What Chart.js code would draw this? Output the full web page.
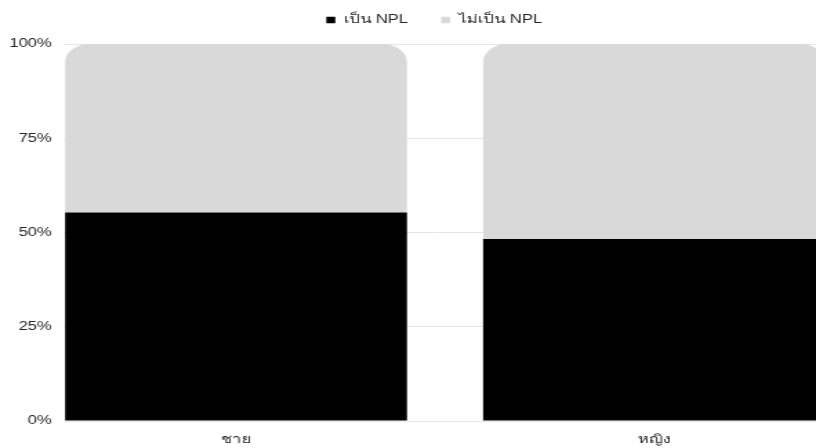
<!DOCTYPE html>
<html>
<head>
<meta charset="utf-8">
<script src="https://cdn.jsdelivr.net/npm/chart.js@4/dist/chart.umd.min.js"></script>
<style>
  html, body { margin: 0; padding: 0; background: #ffffff; overflow: hidden; }
  /* the chart is drawn on a narrower canvas and widened to the page width */
  #wrap { width: 591px; height: 448px; transform: scaleX(1.3807); transform-origin: 0 0; }
  #chart { width: 591px; height: 448px; display: block; }
</style>
</head>
<body>
<div id="wrap"><canvas id="chart" width="591" height="448"></canvas></div>
<script>
// Share of borrowers by gender, split into NPL / non-NPL (percent)
const categories = ['ชาย', 'หญิง'];
const nplShare = [55.3, 48.3];
const nonNplShare = [44.7, 51.7];
const seriesNames = ['เป็น NPL', 'ไม่เป็น NPL'];
const yTicks = [0, 25, 50, 75, 100];

const FONT = "'Liberation Sans', Arial, 'Noto Sans', sans-serif";

// Categories sit at positions 0, 1 on a numeric axis so the view can
// run past the last group on the right.
const positions = categories.map((_, i) => i);

// Fixed legend height (more room below it) and a small shift to the right.
const legendPlacement = {
  id: 'legendPlacement',
  beforeInit(chart) {
    const fit = chart.legend.fit;
    chart.legend.fit = function () {
      fit.call(this);
      this.height = 54;
    };
  },
  afterLayout(chart) {
    chart.legend.left += 19;
    chart.legend.right += 19;
  }
};

new Chart(document.getElementById('chart'), {
  type: 'bar',
  data: {
    datasets: [
      {
        label: seriesNames[0],
        data: positions.map((x, i) => ({ x, y: nplShare[i] })),
        backgroundColor: '#000000',
        borderWidth: 0,
        borderRadius: 0
      },
      {
        label: seriesNames[1],
        data: positions.map((x, i) => ({ x, y: nonNplShare[i] })),
        backgroundColor: '#d9d9d9',
        borderWidth: 0,
        borderSkipped: 'bottom',
        borderRadius: { topLeft: 18, topRight: 18, bottomLeft: 0, bottomRight: 0 }
      }
    ]
  },
  options: {
    responsive: false,
    animation: false,
    devicePixelRatio: 1,
    layout: { padding: { left: 0, right: 0, top: -10, bottom: 0 } },
    datasets: { bar: { categoryPercentage: 1, barPercentage: 0.818 } },
    plugins: {
      legend: {
        position: 'top',
        align: 'center',
        labels: {
          boxWidth: 6.5,
          boxHeight: 6.5,
          padding: 24,
          color: '#262626',
          font: { family: FONT, size: 12 }
        }
      },
      tooltip: { enabled: false }
    },
    scales: {
      x: {
        type: 'linear',
        stacked: true,
        offset: false,
        min: -0.4115,
        max: 1.3876,
        afterBuildTicks: (scale) => {
          scale.ticks = positions.map(v => ({ value: v }));
        },
        afterFit: (scale) => { scale.height = 27; },
        grid: { display: false },
        border: { display: false },
        ticks: {
          autoSkip: false,
          maxRotation: 0,
          padding: 3,
          color: '#262626',
          font: { family: FONT, size: 12 },
          callback: (v) => categories[v] ?? ''
        }
      },
      y: {
        stacked: true,
        min: 0,
        max: 100,
        afterBuildTicks: (scale) => {
          scale.ticks = yTicks.map(v => ({ value: v }));
        },
        afterFit: (scale) => { scale.width = 46.4; },
        grid: { color: '#e6e6e6', lineWidth: 1, drawTicks: false },
        border: { display: false },
        ticks: {
          padding: 9,
          color: '#262626',
          font: { family: FONT, size: 12 },
          callback: (v) => v + '%'
        }
      }
    }
  },
  plugins: [legendPlacement]
});
</script>
</body>
</html>
